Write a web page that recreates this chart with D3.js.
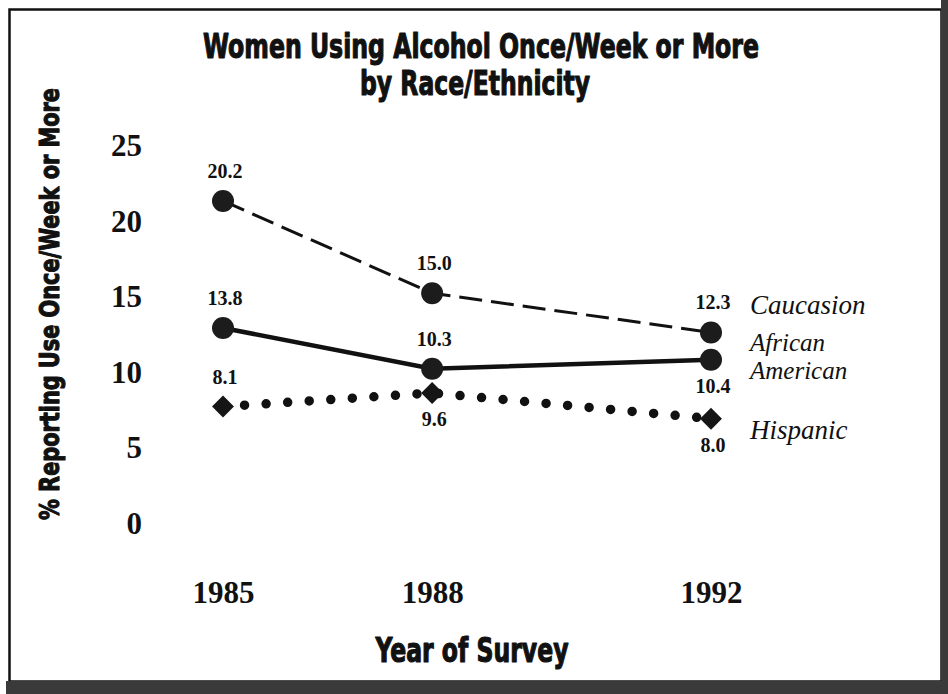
<!DOCTYPE html>
<html>
<head>
<meta charset="utf-8">
<script src="https://cdn.jsdelivr.net/npm/d3@7"></script>
<style>
  html, body { margin: 0; padding: 0; background: #fff; }
  svg { display: block; }
</style>
</head>
<body>
<svg id="chart" width="948" height="694"></svg>
<script>
// ---------- data ----------
const years = [1985, 1988, 1992];
const yTicks = [0, 5, 10, 15, 20, 25];
const seriesNames = ["Caucasion", "African American", "Hispanic"];
// plotted positions
const caucasian = [21.3, 15.2, 12.6];
const africanAmerican = [12.9, 10.2, 10.8];
const hispanic = [7.7, 8.6, 6.9];
// printed value labels
const caucasianLabels = ["20.2", "15.0", "12.3"];
const africanAmericanLabels = ["13.8", "10.3", "10.4"];
const hispanicLabels = ["8.1", "9.6", "8.0"];
// label side (true = below the marker)
const caucasianBelow = [false, false, false];
const africanAmericanBelow = [false, false, true];
const hispanicBelow = [false, true, true];

const titleLines = ["Women Using Alcohol Once/Week or More", "by Race/Ethnicity"];
const yTitle = "% Reporting Use Once/Week or More";
const xTitle = "Year of Survey";

// ---------- layout ----------
const W = 948, H = 694;
const svg = d3.select("#chart");
const serif = "'Liberation Serif', 'Times New Roman', 'DejaVu Serif', serif";
const condensed = "'Liberation Sans Narrow', 'Arial Narrow', 'DejaVu Sans Condensed', 'DejaVu Sans', sans-serif";

const x = d3.scaleLinear().domain([1985, 1992]).range([223, 711]);
const y = d3.scaleLinear().domain([0, 25]).range([523, 145]);

// frame and scan bands
svg.append("rect").attr("x", 0).attr("y", 0).attr("width", W).attr("height", H).attr("fill", "#fff");
svg.append("rect").attr("x", 9.5).attr("y", 9.5).attr("width", 932).attr("height", 672)
  .attr("fill", "none").attr("stroke", "#111").attr("stroke-width", 2.5);
svg.append("rect").attr("x", 941).attr("y", 0).attr("width", 7).attr("height", H).attr("fill", "#3a3a3a");
svg.append("rect").attr("x", 6).attr("y", 681).attr("width", W - 6).attr("height", 13).attr("fill", "#3a3a3a");

function heavy(sel) {
  return sel.attr("font-family", condensed).attr("font-weight", "bold")
    .attr("fill", "#111").attr("stroke", "#111").attr("stroke-width", 1.1)
    .attr("stroke-linejoin", "round").attr("lengthAdjust", "spacingAndGlyphs");
}

// title
heavy(svg.append("text").attr("x", 481).attr("y", 58).attr("text-anchor", "middle")
  .attr("font-size", 33).attr("textLength", 556)).text(titleLines[0]);
heavy(svg.append("text").attr("x", 475).attr("y", 95).attr("text-anchor", "middle")
  .attr("font-size", 33).attr("textLength", 230)).text(titleLines[1]);

// y axis title
heavy(svg.append("text")
  .attr("transform", "translate(59,304) rotate(-90)")
  .attr("text-anchor", "middle")
  .attr("font-size", 27).attr("textLength", 432)).text(yTitle);

// x axis title
heavy(svg.append("text").attr("x", 472).attr("y", 662).attr("text-anchor", "middle")
  .attr("font-size", 33).attr("textLength", 193)).text(xTitle);

// y axis (labels only)
const yAxis = svg.append("g").attr("transform", "translate(142,0)")
  .call(d3.axisLeft(y).tickValues(yTicks).tickSize(0).tickPadding(0).tickFormat(d3.format("d")));
yAxis.select(".domain").remove();
yAxis.selectAll("text")
  .attr("font-family", serif).attr("font-weight", "bold").attr("font-size", 31)
  .attr("fill", "#111").attr("dy", "0.34em");

// x axis (labels only)
const xAxis = svg.append("g").attr("transform", "translate(0,603)")
  .call(d3.axisBottom(x).tickValues(years).tickSize(0).tickPadding(0).tickFormat(d3.format("d")));
xAxis.select(".domain").remove();
xAxis.selectAll("text")
  .attr("font-family", serif).attr("font-weight", "bold").attr("font-size", 31)
  .attr("fill", "#111").attr("y", 0).attr("dy", 0);

// series
const series = [
  { name: seriesNames[0], values: caucasian, labels: caucasianLabels, below: caucasianBelow, kind: "dash" },
  { name: seriesNames[1], values: africanAmerican, labels: africanAmericanLabels, below: africanAmericanBelow, kind: "solid" },
  { name: seriesNames[2], values: hispanic, labels: hispanicLabels, below: hispanicBelow, kind: "dot" }
];

const line = d3.line().x((d, i) => x(years[i])).y(d => y(d));

series.forEach(s => {
  const p = svg.append("path").attr("d", line(s.values)).attr("fill", "none").attr("stroke", "#111");
  if (s.kind === "dash") {
    p.attr("stroke-width", 3).attr("stroke-dasharray", "23 9");
  } else if (s.kind === "solid") {
    p.attr("stroke-width", 4.5);
  } else {
    p.attr("stroke-width", 9.5).attr("stroke-linecap", "round").attr("stroke-dasharray", "0 21.6");
  }
});

// markers
series.forEach(s => {
  if (s.kind === "dot") {
    svg.selectAll(null).data(s.values).enter().append("path")
      .attr("d", d3.symbol(d3.symbolSquare, 240)())
      .attr("transform", (d, i) => `translate(${x(years[i])},${y(d)}) rotate(45)`)
      .attr("fill", "#151515");
  } else {
    svg.selectAll(null).data(s.values).enter().append("circle")
      .attr("cx", (d, i) => x(years[i])).attr("cy", d => y(d)).attr("r", 11)
      .attr("fill", "#1c1c1c");
  }
});

// value labels
series.forEach(s => {
  svg.selectAll(null).data(s.values).enter().append("text")
    .attr("x", (d, i) => x(years[i]) + 2)
    .attr("y", (d, i) => y(d) + (s.below[i] ? 33 : -23))
    .attr("text-anchor", "middle")
    .attr("font-family", serif).attr("font-weight", "bold").attr("font-size", 20)
    .attr("fill", "#111")
    .text((d, i) => s.labels[i]);
});

// series names at line ends
const legendX = 750;
const last = years.length - 1;
function legendText(lines, yBase, size, gap) {
  lines.forEach((s, k) => {
    svg.append("text").attr("x", legendX).attr("y", yBase + k * gap)
      .attr("font-family", serif).attr("font-style", "italic").attr("font-size", size)
      .attr("fill", "#111").text(s);
  });
}
legendText([seriesNames[0]], y(caucasian[last]) - 18, 27, 0);
legendText(seriesNames[1].split(" "), y(africanAmerican[last]) - 9, 25, 28);
legendText([seriesNames[2]], y(hispanic[last]) + 20, 27, 0);
</script>
</body>
</html>
